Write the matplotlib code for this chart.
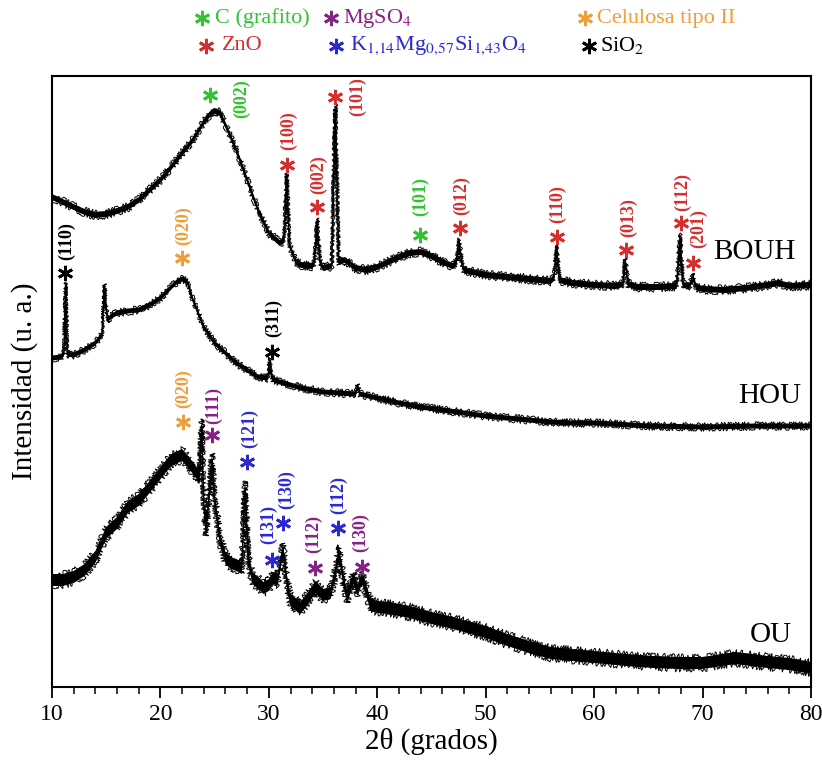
import numpy as np
import matplotlib
matplotlib.use("Agg")
import matplotlib.pyplot as plt
from matplotlib.lines import Line2D
from matplotlib.ticker import MultipleLocator

plt.rcParams['font.family'] = ['Liberation Serif', 'DejaVu Serif']
plt.rcParams['mathtext.fontset'] = 'stix'

# --- data (2theta in degrees, intensity in a.u. incl. offset) ---
tt_bouh = [10, 11, 12, 13, 14, 15, 16, 17, 18, 19, 20, 21, 22, 23, 24, 24.5, 25, 25.5, 26, 27,
           28, 29, 30, 31, 31.4, 31.65, 31.9, 32.5, 33, 34, 34.2, 34.45, 34.7, 35, 35.8, 36.12,
           36.45, 37, 38, 39, 40, 41, 42, 43, 44, 45, 46, 47, 47.3, 47.55, 47.8, 48, 50, 52,
           54, 56, 56.3, 56.55, 56.8, 58, 60, 62, 62.65, 62.88, 63.1, 64, 66, 67.6, 67.92,
           68.2, 68.8, 69.1, 69.4, 70, 72, 74, 76, 77, 78, 80]
i_bouh = [490, 485, 480, 475, 472, 473, 476, 480, 487, 497, 507, 520, 534, 547, 565, 572, 576,
          574, 562, 537, 507, 477, 454, 444, 447, 511, 442, 425, 422, 421, 425, 466, 425, 419,
          421, 580, 425, 427, 419, 417, 420, 425, 430, 434, 435, 431, 425, 421, 425, 446, 423,
          417, 412, 410, 408, 406, 409, 439, 407, 404, 402, 401, 403, 426, 403, 400, 400, 401,
          451, 402, 401, 411, 400, 398, 397, 399, 402, 404, 401, 402]

tt_hou = [10, 10.8, 11.1, 11.25, 11.4, 12, 13, 14, 14.6, 14.85, 15.1, 15.5, 16, 17, 18, 19, 20,
          21, 21.5, 22, 22.5, 23, 24, 25, 26, 27, 28, 29, 29.9, 30.1, 30.3, 31, 32, 33, 35, 38,
          38.2, 38.4, 40, 42, 44, 46, 48, 50, 52, 54, 56, 58, 60, 65, 70, 75, 80]
i_hou = [329, 330, 333, 402, 333, 332, 337, 344, 352, 401, 367, 371, 374, 376, 377, 382, 389,
         400, 405, 408, 405, 387, 360, 344, 334, 324, 317, 310, 309, 327, 308, 305, 302, 299,
         295, 293, 301, 293, 289, 284, 280, 277, 274, 271, 269, 267, 265, 264, 264, 261, 260,
         261, 261]

tt_ou = [10, 11, 12, 13, 14, 15, 16, 17, 18, 19, 20, 21, 22, 23, 23.6, 23.8, 24.0, 24.2, 24.45,
         24.75, 25.0, 25.5, 26, 26.5, 27, 27.5, 27.8, 28.1, 28.5, 29, 29.5, 30, 30.4, 30.8,
         31.3, 31.7, 32, 32.9, 33.5, 34.3, 35, 35.7, 36.2, 36.45, 36.8, 37.2, 37.8, 38.2, 38.6,
         39.4, 40, 41, 42, 43, 44, 45, 47, 50, 52, 54, 56, 58, 61, 63, 65.5, 68, 70, 73, 76,
         78, 80]
i_ou = [107, 107, 110, 117, 130, 154, 164, 180, 187, 200, 214, 227, 232, 219, 210, 262, 182,
        157, 187, 228, 187, 147, 129, 124, 122, 119, 200, 127, 109, 104, 99, 102, 109, 107,
        138, 102, 87, 79, 87, 100, 92, 94, 117, 136, 112, 90, 109, 97, 110, 82, 80, 79, 77,
        75, 72, 69, 64, 55, 47, 40, 34, 32, 29, 27, 25, 24, 24, 29, 25, 23, 19]

samples = ["BOUH", "HOU", "OU"]

# phase colours
c_graf = '#33c233'
c_zno = '#d42f2f'
c_mgso4 = '#862386'
c_k = '#2a2ad0'
c_cel = '#f29d38'
c_sio2 = 'black'

# peak markers: (2theta, y asterisk, hkl, 2theta label, y label, colour)
peaks = [
    (24.6, 592, '(002)', 27.45, 588, c_graf),
    (31.7, 522, '(100)', 31.8, 556, c_zno),
    (34.47, 480, '(002)', 34.56, 512, c_zno),
    (36.13, 590, '(101)', 38.16, 590, c_zno),
    (43.9, 452, '(101)', 44.0, 490, c_graf),
    (47.6, 459, '(012)', 47.75, 491, c_zno),
    (56.6, 450, '(110)', 56.6, 483, c_zno),
    (62.9, 437, '(013)', 63.2, 469, c_zno),
    (68.0, 464, '(112)', 68.2, 495, c_zno),
    (69.1, 424, '(201)', 69.65, 458, c_zno),
    (11.2, 414, '(110)', 11.3, 446, c_sio2),
    (22.0, 429, '(020)', 22.1, 461, c_cel),
    (30.3, 335, '(311)', 30.4, 369, c_sio2),
    (22.1, 265, '(020)', 22.1, 298, c_cel),
    (24.8, 252, '(111)', 24.9, 282, c_mgso4),
    (28.0, 225, '(121)', 28.2, 259, c_k),
    (30.3, 127, '(131)', 30.0, 163, c_k),
    (31.3, 164, '(130)', 31.6, 197, c_k),
    (34.3, 119, '(112)', 34.1, 153, c_mgso4),
    (36.4, 159, '(112)', 36.4, 192, c_k),
    (38.6, 120, '(130)', 38.5, 154, c_mgso4),
]

W, H = 822, 768
fig = plt.figure(figsize=(W / 100, H / 100), dpi=100)
ax = fig.add_axes([52 / W, 1 - 687 / H, (811 - 52) / W, (687 - 76) / H])

star = (6, 2, 0)

# each trace: a band for the counting noise with ragged edges, plus a sharp core line
for tt, ii, noise, rag in [(tt_bouh, i_bouh, 3, 2), (tt_hou, i_hou, 2.5, 1.8),
                           (tt_ou, i_ou, 6, 3)]:
    tt = np.array(tt)
    ii = np.array(ii)
    ax.fill_between(tt, ii - noise, ii + noise, facecolor='black', lw=0)
    for edge in (ii - noise, ii + noise):
        ln, = ax.plot(tt, edge, color='black', lw=0.7)
        ln.set_sketch_params(scale=rag, length=1.0, randomness=8)
    ax.plot(tt, ii, color='black', lw=1.0)

for x, y, lab, xl, yl, col in peaks:
    ax.plot([x], [y], marker=star, ms=11, mew=2, color=col, ls='none')
    ax.text(xl, yl, lab, rotation=90, ha='center', va='center', color=col,
            fontsize=13, fontweight='bold')

ax.text(78.6, 435, samples[0], ha='right', va='center', fontsize=21)
ax.text(79.1, 291, samples[1], ha='right', va='center', fontsize=21)
ax.text(78.2, 52, samples[2], ha='right', va='center', fontsize=21)

ax.set_xlim(10, 80)
ax.set_ylim(0, 611)
ax.set_yticks([])
ax.xaxis.set_major_locator(MultipleLocator(10))
ax.xaxis.set_minor_locator(MultipleLocator(2))
ax.tick_params(axis='x', which='major', direction='out', length=8, width=1.3, labelsize=17, pad=4)
ax.tick_params(axis='x', which='minor', direction='out', length=5, width=1.1)
for s in ax.spines.values():
    s.set_linewidth(1.5)
ax.set_xlabel('2θ (grados)', fontsize=21, labelpad=2)
ax.set_ylabel('Intensidad (u. a.)', fontsize=21, labelpad=10)

# legend of phases above the frame
legend = [
    (202, 18, 215, 'C (grafito)', c_graf),
    (206, 46, 222, 'ZnO', c_zno),
    (331, 18, 343, 'MgSO$_4$', c_mgso4),
    (336, 46, 350, 'K$_{1{,}14}$Mg$_{0{,}57}$Si$_{1{,}43}$O$_4$', c_k),
    (585, 18, 597, 'Celulosa tipo II', c_cel),
    (589, 46, 600, 'SiO$_2$', c_sio2),
]
for lx, ly, tx, lab, col in legend:
    fig.add_artist(Line2D([lx / W], [1 - ly / H], transform=fig.transFigure, marker=star,
                          ms=11, mew=2, color=col, ls='none'))
    fig.text(tx / W, 1 - ly / H, lab, ha='left', va='center', color=col, fontsize=16)

fig.savefig('out.png', dpi=100)
